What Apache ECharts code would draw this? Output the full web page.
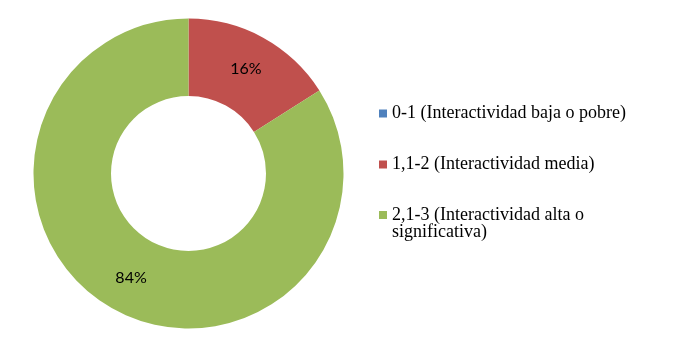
<!DOCTYPE html>
<html>
<head>
<meta charset="utf-8">
<script src="https://cdn.jsdelivr.net/npm/echarts@6/dist/echarts.min.js"></script>
<style>
html,body{margin:0;padding:0;background:#fff;}
#chart{width:677px;height:351px;}
</style>
</head>
<body>
<div id="chart"></div>
<script>
var categories = ['0-1 (Interactividad baja o pobre)', '1,1-2 (Interactividad media)', '2,1-3 (Interactividad alta o\nsignificativa)'];
var values = [0, 16, 84];
var colors = ['#4F81BD', '#C0504D', '#9BBB59'];

var chart = echarts.init(document.getElementById('chart'), null, {renderer: 'canvas'});
var data = categories.map(function (c, i) {
  return {name: c, value: values[i], itemStyle: {color: colors[i]}, label: {show: values[i] > 0}};
});
var legendText = {fontFamily: 'Liberation Serif', fontSize: 18, color: '#000', lineHeight: 17};
chart.setOption({
  animation: false,
  backgroundColor: '#fff',
  legend: [{
    orient: 'vertical',
    left: 379,
    top: 104.5,
    padding: 0,
    itemWidth: 8,
    itemHeight: 8,
    itemGap: 33,
    icon: 'rect',
    data: [categories[0], categories[1]],
    textStyle: legendText
  }, {
    orient: 'vertical',
    left: 379,
    top: 189,
    padding: 0,
    itemWidth: 8,
    itemHeight: 8,
    icon: 'rect',
    data: [categories[2]],
    textStyle: legendText,
    formatter: function (n) { return '\u00a0\n' + n; }
  }],
  series: [{
    type: 'pie',
    center: [188.5, 173.5],
    radius: [77.5, 155],
    startAngle: 90,
    clockwise: true,
    avoidLabelOverlap: false,
    label: {
      show: true,
      position: 'inside',
      formatter: function (p) { return p.value + '%'; },
      fontFamily: 'Lato',
      fontSize: 16,
      color: '#000'
    },
    labelLine: {show: false},
    emphasis: {disabled: true},
    data: data
  }]
});
</script>
</body>
</html>
